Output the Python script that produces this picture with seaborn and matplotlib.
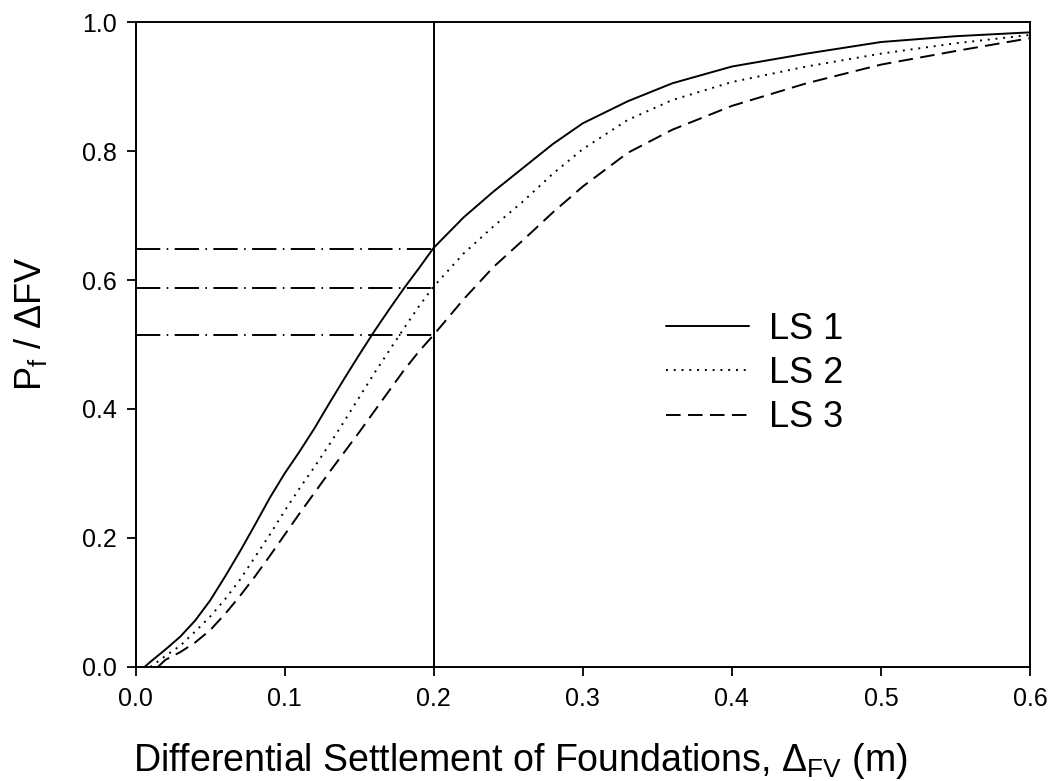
import numpy as np
import pandas as pd
import matplotlib
matplotlib.use("Agg")
import matplotlib.pyplot as plt
import seaborn as sns

# ---- data ----
ls1_x = [0.006, 0.01, 0.02, 0.03, 0.04, 0.05, 0.06, 0.07, 0.08, 0.09, 0.10, 0.11, 0.12, 0.13,
         0.14, 0.15, 0.16, 0.17, 0.18, 0.19, 0.20, 0.22, 0.24, 0.26, 0.28, 0.30, 0.33, 0.36,
         0.40, 0.45, 0.50, 0.55, 0.60]
ls1_y = [0.0, 0.008, 0.027, 0.047, 0.072, 0.103, 0.140, 0.179, 0.220, 0.262, 0.300, 0.334,
         0.370, 0.409, 0.447, 0.484, 0.520, 0.554, 0.587, 0.618, 0.650, 0.697, 0.737, 0.774,
         0.811, 0.843, 0.877, 0.905, 0.931, 0.951, 0.969, 0.978, 0.984]

ls2_x = [0.01, 0.02, 0.03, 0.04, 0.05, 0.06, 0.07, 0.08, 0.09, 0.10, 0.11, 0.12, 0.13, 0.14,
         0.15, 0.16, 0.17, 0.18, 0.19, 0.20, 0.22, 0.24, 0.26, 0.28, 0.30, 0.33, 0.36, 0.40,
         0.45, 0.50, 0.55, 0.60]
ls2_y = [0.0, 0.017, 0.033, 0.055, 0.078, 0.105, 0.135, 0.170, 0.205, 0.242, 0.277, 0.310,
         0.345, 0.381, 0.418, 0.455, 0.490, 0.525, 0.559, 0.590, 0.641, 0.683, 0.722, 0.765,
         0.803, 0.848, 0.879, 0.907, 0.931, 0.951, 0.967, 0.980]

ls3_x = [0.015, 0.02, 0.03, 0.04, 0.05, 0.06, 0.07, 0.08, 0.09, 0.10, 0.11, 0.12, 0.13, 0.14,
         0.15, 0.16, 0.17, 0.18, 0.19, 0.20, 0.22, 0.24, 0.26, 0.28, 0.30, 0.33, 0.36, 0.40,
         0.45, 0.50, 0.55, 0.60]
ls3_y = [0.0, 0.011, 0.023, 0.038, 0.057, 0.082, 0.110, 0.140, 0.172, 0.205, 0.238, 0.270,
         0.302, 0.333, 0.364, 0.396, 0.428, 0.460, 0.489, 0.515, 0.570, 0.620, 0.662, 0.705,
         0.745, 0.797, 0.833, 0.870, 0.905, 0.934, 0.955, 0.975]

series_names = ["LS 1", "LS 2", "LS 3"]
threshold_x = 0.2
threshold_levels = [0.648, 0.588, 0.514]
x_ticks = [0.0, 0.1, 0.2, 0.3, 0.4, 0.5, 0.6]
y_ticks = [0.0, 0.2, 0.4, 0.6, 0.8, 1.0]

# ---- build long-form table ----
df = pd.concat([
    pd.DataFrame({"x": ls1_x, "y": ls1_y, "series": series_names[0]}),
    pd.DataFrame({"x": ls2_x, "y": ls2_y, "series": series_names[1]}),
    pd.DataFrame({"x": ls3_x, "y": ls3_y, "series": series_names[2]}),
], ignore_index=True)

sns.set_theme(style="ticks")
plt.rcParams["font.family"] = ["Liberation Sans", "DejaVu Sans"]
plt.rcParams["mathtext.fontset"] = "custom"
plt.rcParams["mathtext.rm"] = "Liberation Sans"
plt.rcParams["mathtext.it"] = "Liberation Sans"
plt.rcParams["text.color"] = "black"
plt.rcParams["axes.labelcolor"] = "black"
plt.rcParams["xtick.color"] = "black"
plt.rcParams["ytick.color"] = "black"

fig = plt.figure(figsize=(10.49, 7.81), dpi=100)
ax = fig.add_axes([0.1292, 0.146, 0.8528, 0.8258])

sns.lineplot(data=df, x="x", y="y", style="series", color="black", linewidth=1.4,
             dashes={"LS 1": "", "LS 2": (1, 3), "LS 3": (7.5, 3.8)}, ax=ax,
             estimator=None, sort=False)

# reference lines
ax.axvline(threshold_x, color="black", linewidth=1.4)
for lvl in threshold_levels:
    ax.plot([0, threshold_x], [lvl, lvl], color="black", linewidth=1.4,
            linestyle=(0, (12.5, 3.3, 0.8, 3.3)))

ax.set_xlim(0, 0.6)
ax.set_ylim(0, 1.0)
ax.set_xticks(x_ticks)
ax.set_yticks(y_ticks)
ax.set_xticklabels([f"{t:.1f}" for t in x_ticks])
ax.set_yticklabels([f"{t:.1f}" for t in y_ticks])
ax.tick_params(direction="out", length=6.5, width=1.3, labelsize=18, color="black",
               labelcolor="black")
ax.tick_params(axis="x", pad=8)
ax.tick_params(axis="y", pad=7)
for s in ax.spines.values():
    s.set_visible(True)
    s.set_linewidth(1.4)
    s.set_color("black")

ax.set_xlabel(r"Differential Settlement of Foundations, $\Delta_{\mathregular{FV}}$ (m)",
              fontsize=27, labelpad=20)
ax.xaxis.set_label_coords(0.43, -0.115)
ax.set_ylabel(r"P$_{\mathregular{f}}$ / ΔFV", fontsize=26, labelpad=20)
ax.yaxis.set_label_coords(-0.097, 0.533)

leg = ax.legend(loc="center left", bbox_to_anchor=(0.565, 0.455), frameon=False,
                fontsize=26, handlelength=2.3, handletextpad=0.55, labelspacing=0.26,
                borderpad=0.2)
for line in leg.get_lines():
    line.set_linewidth(1.4)

fig.savefig("out.png", dpi=100, facecolor="white")
